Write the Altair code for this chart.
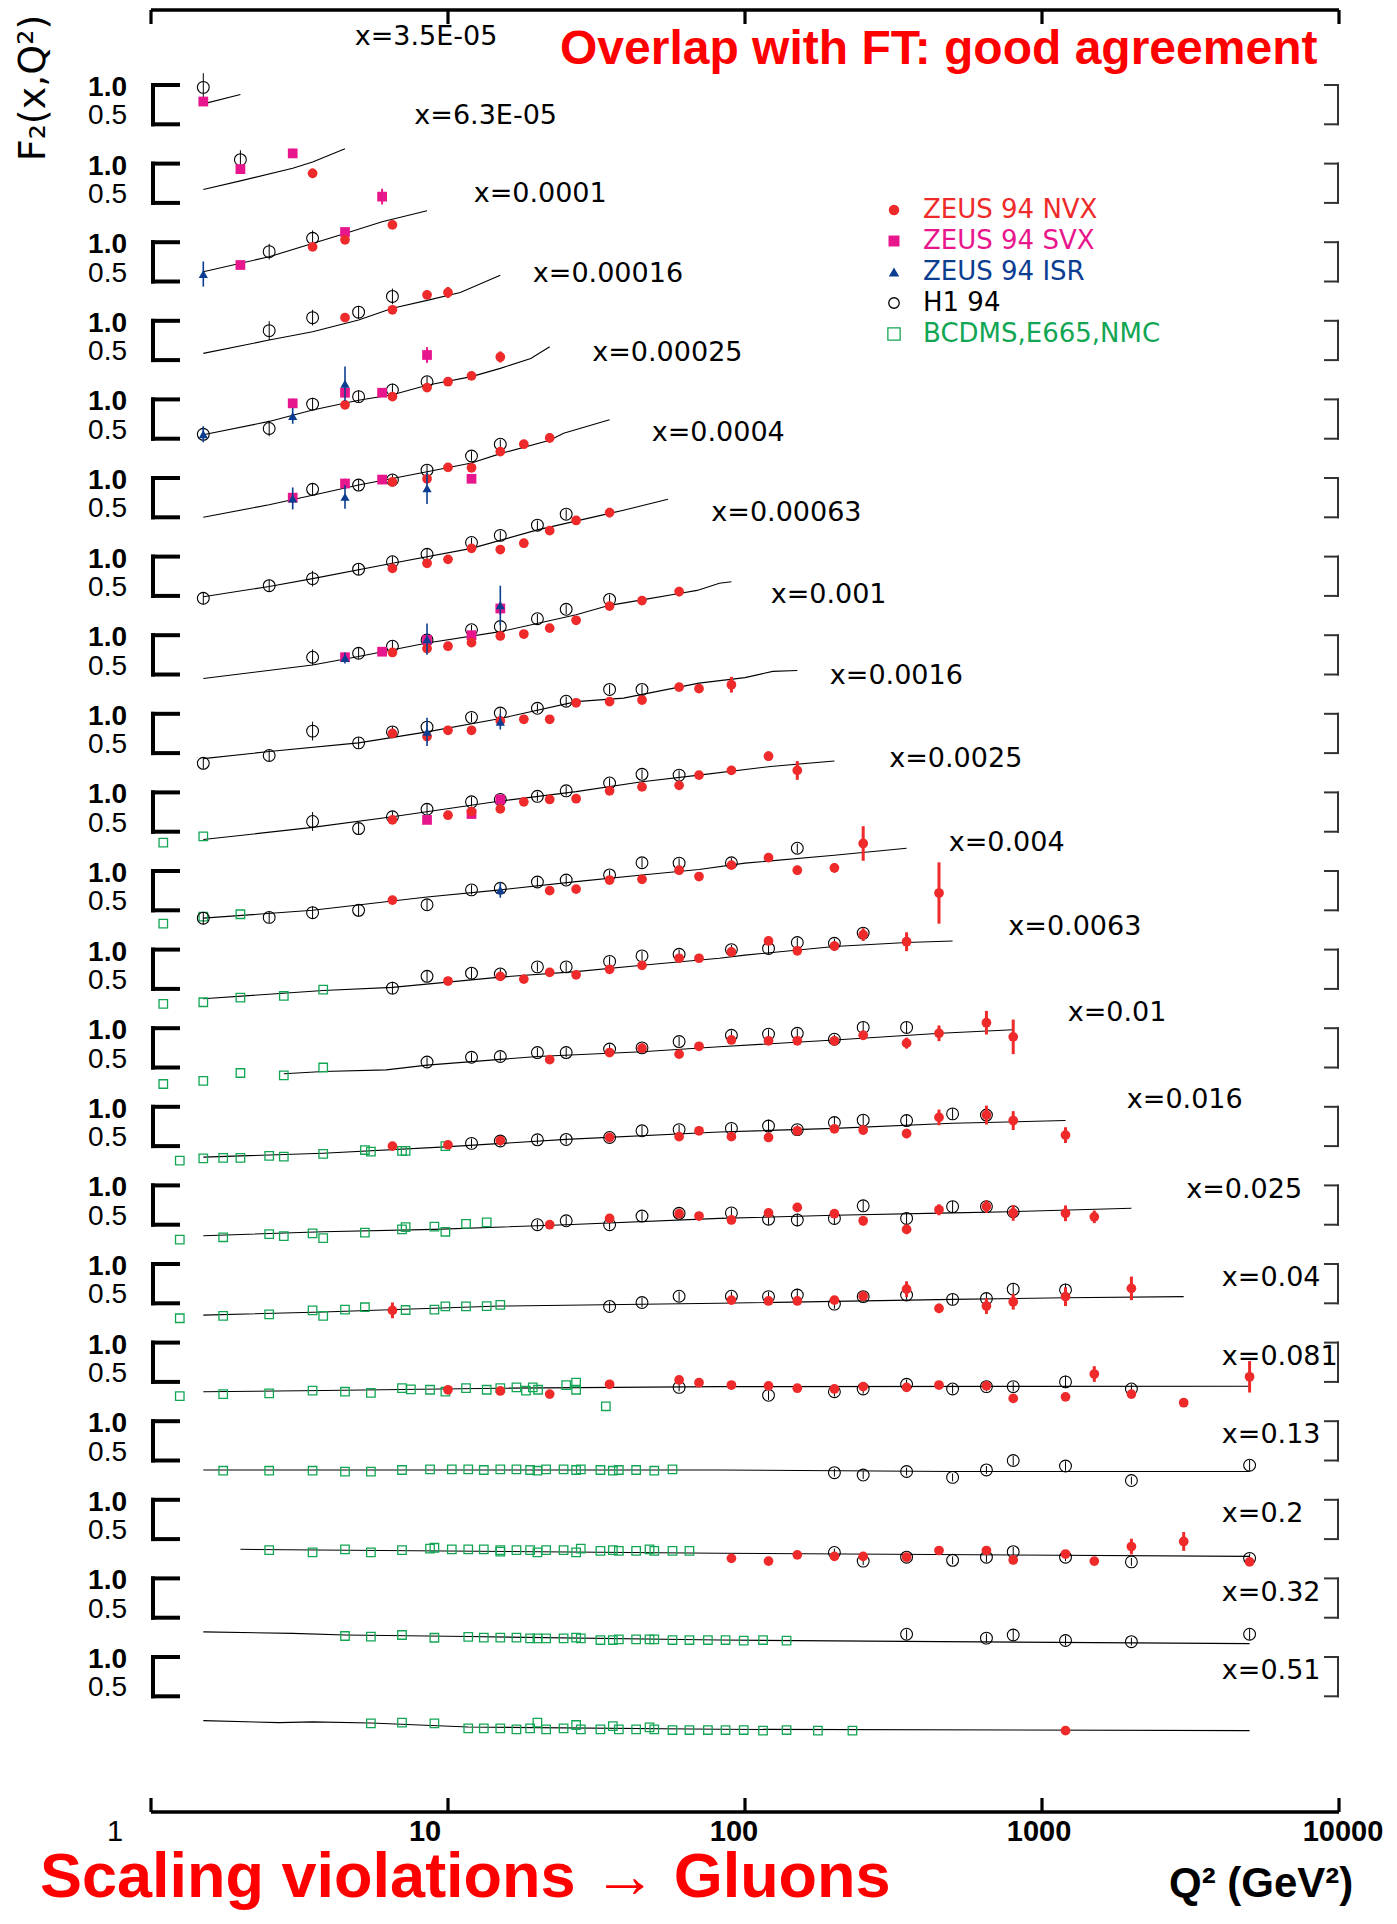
import altair as alt
import pandas as pd

# ---------------- data ----------------
BIN_LABELS = ["x=3.5E-05", "x=6.3E-05", "x=0.0001", "x=0.00016", "x=0.00025",
              "x=0.0004", "x=0.00063", "x=0.001", "x=0.0016", "x=0.0025",
              "x=0.004", "x=0.0063", "x=0.01", "x=0.016", "x=0.025",
              "x=0.04", "x=0.081", "x=0.13", "x=0.2", "x=0.32", "x=0.51"]
LABEL_Q2 = [4.85, 7.7, 12.2, 19.3, 30.6, 48.5, 77, 122, 193, 306, 485, 770,
            1220, 1930, 3060, 4030, 4030, 4030, 4030, 4030, 4030]
LABEL_F2 = [1.61, 1.60, 1.61, 1.60, 1.585, 1.57, 1.56, 1.51, 1.48, 1.42, 1.36,
            1.29, 1.19, 1.09, 0.94, 0.82, 0.82, 0.82, 0.82, 0.82, 0.82]
Q2_TICKS = [1, 10, 100, 1000, 10000]
Q2_TICK_LABELS = ["1", "10", "100", "1000", "10000"]
BRACKET_F2 = [1.0, 0.5]
BRACKET_LABELS = ["1.0", "0.5"]
LEGEND_NAMES = ["ZEUS 94 NVX", "ZEUS 94 SVX", "ZEUS 94 ISR", "H1 94", "BCDMS,E665,NMC"]

# theory curves, one list of (Q2, F2) per x bin
THEORY = [
    [(1.5, 0.76), (2.0, 0.88)],
    [(1.5, 0.67), (2.0, 0.78), (3.0, 0.94), (3.5, 1.02), (4.5, 1.19)],
    [(1.5, 0.625), (2.5, 0.815), (4.5, 1.11), (6.0, 1.26), (8.5, 1.40)],
    [(1.5, 0.586), (2.5, 0.755), (3.5, 0.86), (5.0, 1.01), (6.5, 1.16), (8.5, 1.26), (11, 1.36), (15, 1.58)],
    [(1.5, 0.55), (2.5, 0.72), (3.5, 0.865), (5.0, 0.99), (6.5, 1.06), (8.5, 1.18), (12, 1.29), (15, 1.395), (19, 1.52), (22, 1.67)],
    [(1.5, 0.50), (2.5, 0.66), (3.5, 0.78), (5.0, 0.91), (8.5, 1.08), (12, 1.19), (15, 1.31), (22, 1.48), (24.5, 1.57), (35, 1.74)],
    [(1.5, 0.49), (2.5, 0.62), (3.5, 0.72), (6.5, 0.915), (12, 1.105), (20, 1.34), (35, 1.55), (39, 1.59), (55, 1.73)],
    [(1.5, 0.45), (3.5, 0.62), (5.0, 0.73), (8.5, 0.90), (15, 1.045), (27, 1.26), (35, 1.38), (45, 1.45), (60, 1.53), (69, 1.57), (82, 1.66), (90, 1.68)],
    [(1.5, 0.43), (2.5, 0.52), (5.0, 0.63), (8.5, 0.77), (15, 0.94), (27, 1.155), (39, 1.20), (70, 1.39), (100, 1.46), (124, 1.54), (150, 1.55)],
    [(1.5, 0.40), (3.5, 0.555), (6.5, 0.69), (15, 0.89), (27, 1.01), (45, 1.135), (70, 1.22), (122, 1.33), (200, 1.40)],
    [(1.5, 0.40), (3.5, 0.50), (8.5, 0.67), (15, 0.76), (27, 0.865), (45, 0.95), (70, 1.02), (100, 1.10), (200, 1.20), (350, 1.29)],
    [(1.5, 0.375), (3.8, 0.48), (6.5, 0.52), (15, 0.65), (27, 0.72), (45, 0.80), (82, 0.89), (100, 0.93), (200, 1.04), (350, 1.09), (500, 1.11)],
    [(2.8, 0.42), (3.8, 0.45), (6.2, 0.47), (8.5, 0.53), (20, 0.64), (45, 0.70), (82, 0.765), (200, 0.85), (455, 0.935), (800, 0.98)],
    [(1.5, 0.36), (3.8, 0.41), (9.8, 0.49), (25, 0.585), (82, 0.68), (200, 0.725), (500, 0.79), (1200, 0.825)],
    [(1.5, 0.36), (3.8, 0.41), (9.0, 0.44), (25, 0.50), (82, 0.58), (200, 0.62), (500, 0.65), (780, 0.665), (2000, 0.71)],
    [(1.5, 0.35), (3.8, 0.39), (15, 0.465), (82, 0.50), (500, 0.55), (1200, 0.57), (3000, 0.585)],
    [(1.5, 0.375), (3.8, 0.39), (15, 0.42), (82, 0.44), (5000, 0.445)],
    [(1.5, 0.38), (82, 0.38), (500, 0.36), (5000, 0.36)],
    [(2.0, 0.37), (82, 0.32), (5000, 0.28)],
    [(1.5, 0.32), (3.0, 0.30), (4.5, 0.28), (11.7, 0.26), (82, 0.216), (455, 0.195), (5000, 0.17)],
    [(1.5, 0.19), (2.7, 0.165), (3.5, 0.175), (5.5, 0.16), (11.7, 0.11), (82, 0.08), (5000, 0.063)],
]

# (bin, Q2, F2, error)
H1 = [
    (0, 1.5, 0.97, 0.18),
    (1, 2.0, 1.05, 0.12),
    (2, 2.5, 0.88, 0.10), (2, 3.5, 1.05, 0.10),
    (3, 2.5, 0.875, 0.12), (3, 3.5, 1.04, 0.10), (3, 5, 1.11, 0.08), (3, 6.5, 1.31, 0.10),
    (4, 1.5, 0.556, 0.10), (4, 2.5, 0.63, 0.10), (4, 3.5, 0.94, 0.08), (4, 5, 1.035, 0.08), (4, 6.5, 1.12, 0.08), (4, 8.5, 1.225, 0.07),
    (5, 3.5, 0.856, 0.08), (5, 5, 0.91, 0.07), (5, 6.5, 0.975, 0.07), (5, 8.5, 1.10, 0.07), (5, 12, 1.28, 0.06), (5, 15, 1.43, 0.06),
    (6, 1.5, 0.47, 0.08), (6, 2.5, 0.63, 0.08), (6, 3.5, 0.72, 0.10), (6, 5, 0.84, 0.07), (6, 6.5, 0.935, 0.07), (6, 8.5, 1.03, 0.07),
    (6, 12, 1.18, 0.06), (6, 15, 1.27, 0.06), (6, 20, 1.40, 0.06), (6, 25, 1.54, 0.06),
    (7, 3.5, 0.72, 0.10), (7, 5, 0.77, 0.07), (7, 6.5, 0.86, 0.07), (7, 8.5, 0.94, 0.07), (7, 12, 1.07, 0.06), (7, 15, 1.11, 0.06),
    (7, 20, 1.21, 0.06), (7, 25, 1.33, 0.06), (7, 35, 1.455, 0.06),
    (8, 1.5, 0.37, 0.07), (8, 2.5, 0.47, 0.07), (8, 3.5, 0.78, 0.12), (8, 5, 0.63, 0.07), (8, 6.5, 0.77, 0.07), (8, 8.5, 0.83, 0.06),
    (8, 12, 0.955, 0.06), (8, 15, 1.01, 0.06), (8, 20, 1.07, 0.06), (8, 25, 1.16, 0.06), (8, 35, 1.31, 0.06), (8, 45, 1.31, 0.06),
    (9, 3.5, 0.63, 0.12), (9, 5, 0.54, 0.07), (9, 6.5, 0.69, 0.07), (9, 8.5, 0.785, 0.07), (9, 12, 0.88, 0.06), (9, 15, 0.91, 0.06),
    (9, 20, 0.95, 0.06), (9, 25, 1.02, 0.06), (9, 35, 1.12, 0.06), (9, 45, 1.23, 0.06), (9, 60, 1.22, 0.06),
    (10, 1.5, 0.40, 0.08), (10, 2.5, 0.41, 0.07), (10, 3.5, 0.47, 0.08), (10, 5, 0.50, 0.08), (10, 8.5, 0.57, 0.07), (10, 12, 0.76, 0.06),
    (10, 15, 0.78, 0.06), (10, 20, 0.86, 0.06), (10, 25, 0.885, 0.06), (10, 35, 0.95, 0.06), (10, 45, 1.105, 0.06), (10, 60, 1.10, 0.06),
    (10, 90, 1.105, 0.06), (10, 150, 1.29, 0.06),
    (11, 6.5, 0.51, 0.08), (11, 8.5, 0.66, 0.07), (11, 12, 0.70, 0.07), (11, 15, 0.69, 0.07), (11, 20, 0.78, 0.06), (11, 25, 0.78, 0.06),
    (11, 35, 0.85, 0.06), (11, 45, 0.92, 0.06), (11, 60, 0.94, 0.06), (11, 90, 1.0, 0.06), (11, 120, 1.015, 0.07), (11, 150, 1.09, 0.06),
    (11, 200, 1.08, 0.06), (11, 250, 1.21, 0.06),
    (12, 8.5, 0.57, 0.06), (12, 12, 0.63, 0.06), (12, 15, 0.64, 0.06), (12, 20, 0.69, 0.06), (12, 25, 0.69, 0.06), (12, 35, 0.735, 0.06),
    (12, 45, 0.75, 0.06), (12, 60, 0.83, 0.06), (12, 90, 0.91, 0.06), (12, 120, 0.925, 0.06), (12, 150, 0.935, 0.06), (12, 200, 0.86, 0.06),
    (12, 250, 1.01, 0.07), (12, 350, 1.01, 0.07),
    (13, 12, 0.535, 0.06), (13, 15, 0.565, 0.06), (13, 20, 0.58, 0.06), (13, 25, 0.585, 0.06), (13, 35, 0.61, 0.06), (13, 45, 0.695, 0.06),
    (13, 60, 0.71, 0.06), (13, 90, 0.725, 0.06), (13, 120, 0.755, 0.08), (13, 150, 0.71, 0.06), (13, 200, 0.80, 0.07), (13, 250, 0.83, 0.07),
    (13, 350, 0.825, 0.07), (13, 500, 0.91, 0.07), (13, 650, 0.895, 0.07),
    (14, 20, 0.50, 0.06), (14, 25, 0.55, 0.06), (14, 35, 0.50, 0.06), (14, 45, 0.61, 0.06), (14, 60, 0.645, 0.06), (14, 90, 0.65, 0.06),
    (14, 120, 0.57, 0.07), (14, 150, 0.56, 0.08), (14, 200, 0.58, 0.07), (14, 250, 0.74, 0.07), (14, 350, 0.58, 0.07), (14, 500, 0.73, 0.07),
    (14, 650, 0.73, 0.07), (14, 800, 0.665, 0.08),
    (15, 35, 0.46, 0.06), (15, 45, 0.51, 0.06), (15, 60, 0.59, 0.06), (15, 90, 0.59, 0.06), (15, 120, 0.585, 0.06), (15, 150, 0.605, 0.08),
    (15, 200, 0.49, 0.06), (15, 250, 0.585, 0.06), (15, 350, 0.605, 0.06), (15, 500, 0.55, 0.07), (15, 650, 0.56, 0.07), (15, 800, 0.68, 0.08),
    (15, 1200, 0.67, 0.08),
    (16, 60, 0.43, 0.05), (16, 120, 0.33, 0.06), (16, 200, 0.375, 0.06), (16, 250, 0.41, 0.06), (16, 350, 0.47, 0.06), (16, 500, 0.41, 0.06),
    (16, 650, 0.44, 0.06), (16, 800, 0.44, 0.06), (16, 1200, 0.50, 0.08), (16, 2000, 0.41, 0.06),
    (17, 200, 0.345, 0.05), (17, 250, 0.315, 0.05), (17, 350, 0.36, 0.05), (17, 500, 0.285, 0.05), (17, 650, 0.38, 0.05), (17, 800, 0.50, 0.06),
    (17, 1200, 0.43, 0.06), (17, 2000, 0.245, 0.05), (17, 5000, 0.44, 0.07),
    (18, 200, 0.33, 0.05), (18, 250, 0.22, 0.05), (18, 350, 0.27, 0.05), (18, 500, 0.23, 0.05), (18, 650, 0.27, 0.06), (18, 800, 0.34, 0.06),
    (18, 1200, 0.27, 0.05), (18, 2000, 0.21, 0.05), (18, 5000, 0.255, 0.06),
    (19, 350, 0.29, 0.06), (19, 650, 0.24, 0.06), (19, 800, 0.28, 0.07), (19, 1200, 0.21, 0.06), (19, 2000, 0.195, 0.05), (19, 5000, 0.29, 0.07),
]

NVX = [
    (1, 3.5, 0.876, 0.06),
    (2, 3.5, 0.94, 0.05), (2, 4.5, 1.03, 0.05), (2, 6.5, 1.22, 0.05),
    (3, 4.5, 1.04, 0.04), (3, 6.5, 1.14, 0.04), (3, 8.5, 1.33, 0.04), (3, 10, 1.36, 0.07),
    (4, 4.5, 0.93, 0.04), (4, 6.5, 1.035, 0.04), (4, 8.5, 1.15, 0.04), (4, 10, 1.225, 0.04), (4, 12, 1.30, 0.04), (4, 15, 1.54, 0.07),
    (5, 6.5, 0.95, 0.04), (5, 8.5, 0.99, 0.04), (5, 10, 1.135, 0.04), (5, 12, 1.13, 0.04), (5, 15, 1.335, 0.04), (5, 18, 1.43, 0.04), (5, 22, 1.51, 0.06),
    (6, 6.5, 0.85, 0.04), (6, 8.5, 0.915, 0.04), (6, 10, 0.965, 0.04), (6, 12, 1.105, 0.04), (6, 15, 1.09, 0.04), (6, 18, 1.17, 0.04),
    (6, 22, 1.33, 0.04), (6, 27, 1.46, 0.04), (6, 35, 1.56, 0.06),
    (7, 6.5, 0.78, 0.04), (7, 8.5, 0.83, 0.04), (7, 10, 0.86, 0.04), (7, 12, 0.905, 0.04), (7, 15, 0.99, 0.04), (7, 18, 1.015, 0.04),
    (7, 22, 1.09, 0.04), (7, 27, 1.19, 0.04), (7, 35, 1.37, 0.04), (7, 45, 1.44, 0.05), (7, 60, 1.555, 0.06),
    (8, 6.5, 0.75, 0.04), (8, 8.5, 0.71, 0.04), (8, 10, 0.79, 0.04), (8, 12, 0.79, 0.04), (8, 15, 0.91, 0.04), (8, 18, 0.93, 0.04),
    (8, 22, 0.93, 0.04), (8, 27, 1.14, 0.04), (8, 35, 1.155, 0.04), (8, 45, 1.175, 0.04), (8, 60, 1.34, 0.04), (8, 70, 1.32, 0.04), (8, 90, 1.37, 0.10),
    (9, 6.5, 0.65, 0.04), (9, 10, 0.71, 0.04), (9, 12, 0.755, 0.04), (9, 15, 0.79, 0.04), (9, 18, 0.88, 0.04), (9, 22, 0.91, 0.04),
    (9, 27, 0.92, 0.04), (9, 35, 1.02, 0.04), (9, 45, 1.07, 0.04), (9, 60, 1.09, 0.04), (9, 70, 1.22, 0.04), (9, 90, 1.28, 0.05),
    (9, 120, 1.46, 0.06), (9, 150, 1.28, 0.12),
    (10, 6.5, 0.63, 0.04), (10, 22, 0.75, 0.04), (10, 27, 0.77, 0.04), (10, 35, 0.885, 0.04), (10, 45, 0.895, 0.04), (10, 60, 1.01, 0.04),
    (10, 70, 0.93, 0.04), (10, 90, 1.075, 0.04), (10, 120, 1.17, 0.05), (10, 150, 1.01, 0.05), (10, 200, 1.04, 0.06), (10, 250, 1.35, 0.22),
    (10, 450, 0.72, 0.39),
    (11, 10, 0.60, 0.04), (11, 15, 0.66, 0.04), (11, 18, 0.625, 0.04), (11, 22, 0.71, 0.04), (11, 27, 0.68, 0.04), (11, 35, 0.75, 0.04),
    (11, 45, 0.80, 0.04), (11, 60, 0.89, 0.04), (11, 70, 0.89, 0.04), (11, 90, 0.97, 0.04), (11, 120, 1.11, 0.05), (11, 150, 0.985, 0.05),
    (11, 200, 1.045, 0.06), (11, 250, 1.19, 0.08), (11, 350, 1.10, 0.12),
    (12, 22, 0.60, 0.04), (12, 35, 0.69, 0.04), (12, 45, 0.745, 0.04), (12, 60, 0.67, 0.04), (12, 70, 0.77, 0.04), (12, 90, 0.85, 0.04),
    (12, 120, 0.84, 0.05), (12, 150, 0.84, 0.05), (12, 200, 0.84, 0.05), (12, 250, 0.91, 0.06), (12, 350, 0.81, 0.07), (12, 450, 0.935, 0.10),
    (12, 650, 1.07, 0.15), (12, 800, 0.89, 0.22),
    (13, 6.5, 0.50, 0.04), (13, 10, 0.515, 0.04), (13, 15, 0.57, 0.04), (13, 35, 0.61, 0.04), (13, 60, 0.62, 0.04), (13, 70, 0.695, 0.04),
    (13, 90, 0.62, 0.04), (13, 120, 0.61, 0.05), (13, 150, 0.695, 0.05), (13, 200, 0.72, 0.05), (13, 250, 0.705, 0.06), (13, 350, 0.66, 0.06),
    (13, 450, 0.865, 0.10), (13, 650, 0.895, 0.12), (13, 800, 0.825, 0.12), (13, 1200, 0.64, 0.10),
    (14, 22, 0.50, 0.04), (14, 35, 0.58, 0.04), (14, 60, 0.64, 0.04), (14, 70, 0.61, 0.04), (14, 90, 0.56, 0.05), (14, 120, 0.65, 0.05),
    (14, 150, 0.72, 0.05), (14, 200, 0.64, 0.05), (14, 250, 0.55, 0.06), (14, 350, 0.44, 0.06), (14, 450, 0.69, 0.07), (14, 650, 0.73, 0.08),
    (14, 800, 0.65, 0.10), (14, 1200, 0.645, 0.10), (14, 1500, 0.60, 0.08),
    (15, 6.5, 0.41, 0.10), (15, 90, 0.54, 0.05), (15, 120, 0.53, 0.05), (15, 150, 0.53, 0.05), (15, 200, 0.54, 0.05), (15, 250, 0.59, 0.06),
    (15, 350, 0.68, 0.10), (15, 450, 0.435, 0.06), (15, 650, 0.465, 0.10), (15, 800, 0.52, 0.10), (15, 1200, 0.585, 0.12), (15, 2000, 0.69, 0.15),
    (16, 10, 0.40, 0.04), (16, 15, 0.385, 0.04), (16, 22, 0.345, 0.04), (16, 35, 0.47, 0.04), (16, 60, 0.525, 0.04), (16, 70, 0.49, 0.04),
    (16, 90, 0.46, 0.04), (16, 120, 0.45, 0.04), (16, 150, 0.42, 0.04), (16, 200, 0.41, 0.04), (16, 250, 0.44, 0.04), (16, 350, 0.43, 0.05),
    (16, 450, 0.46, 0.05), (16, 650, 0.45, 0.05), (16, 800, 0.29, 0.05), (16, 1200, 0.31, 0.05), (16, 1500, 0.60, 0.10), (16, 2000, 0.345, 0.05),
    (16, 3000, 0.235, 0.05), (16, 5000, 0.565, 0.20),
    (18, 90, 0.255, 0.04), (18, 120, 0.22, 0.04), (18, 150, 0.30, 0.04), (18, 200, 0.28, 0.04), (18, 250, 0.28, 0.04), (18, 350, 0.27, 0.04),
    (18, 450, 0.355, 0.04), (18, 650, 0.355, 0.05), (18, 800, 0.235, 0.05), (18, 1200, 0.31, 0.05), (18, 1500, 0.22, 0.04), (18, 2000, 0.405, 0.10),
    (18, 3000, 0.47, 0.12), (18, 5000, 0.21, 0.05),
    (20, 1200, 0.063, 0.03),
]

SVX = [
    (0, 1.5, 0.79, 0.05),
    (1, 2.0, 0.93, 0.05), (1, 3.0, 1.13, 0.06), (1, 6.0, 0.58, 0.10),
    (2, 2.0, 0.71, 0.04), (2, 4.5, 1.13, 0.05),
    (4, 3.0, 0.95, 0.06), (4, 4.5, 1.085, 0.06), (4, 6.0, 1.085, 0.05), (4, 8.5, 1.565, 0.10),
    (5, 3.0, 0.75, 0.05), (5, 4.5, 0.93, 0.06), (5, 6.0, 0.98, 0.05), (5, 12, 0.99, 0.05),
    (7, 4.5, 0.72, 0.05), (7, 6.0, 0.79, 0.05), (7, 8.5, 0.94, 0.05), (7, 12, 1.0, 0.05), (7, 15, 1.34, 0.08),
    (9, 8.5, 0.65, 0.04), (9, 12, 0.725, 0.04), (9, 15, 0.91, 0.06),
]

ISR = [
    (2, 1.5, 0.595, 0.16),
    (4, 1.5, 0.556, 0.10), (4, 3.0, 0.79, 0.10), (4, 4.5, 1.20, 0.22),
    (5, 3.0, 0.74, 0.14), (5, 4.5, 0.76, 0.15), (5, 8.5, 0.87, 0.20),
    (7, 4.5, 0.71, 0.07), (7, 8.5, 0.95, 0.20), (7, 15, 1.38, 0.25),
    (8, 8.5, 0.77, 0.18), (8, 15, 0.90, 0.10),
    (10, 15, 0.76, 0.10),
]

# fixed-target data (bin, Q2, F2)
FT = [
    (9, 1.1, 0.36), (9, 1.5, 0.44),
    (10, 1.1, 0.33), (10, 1.5, 0.42), (10, 2.0, 0.45),
    (11, 1.1, 0.31), (11, 1.5, 0.33), (11, 2.0, 0.39), (11, 2.8, 0.41), (11, 3.8, 0.49),
    (12, 1.1, 0.29), (12, 1.5, 0.33), (12, 2.0, 0.43), (12, 2.8, 0.40), (12, 3.8, 0.50),
    (13, 1.25, 0.315), (13, 1.5, 0.345), (13, 1.75, 0.35), (13, 2.0, 0.35), (13, 2.5, 0.375), (13, 2.8, 0.365),
    (13, 3.8, 0.40), (13, 5.25, 0.45), (13, 5.5, 0.43), (13, 7.0, 0.44), (13, 7.2, 0.44), (13, 9.8, 0.50),
    (14, 1.25, 0.31), (14, 1.75, 0.34), (14, 2.5, 0.38), (14, 2.8, 0.355), (14, 3.5, 0.39), (14, 3.8, 0.33),
    (14, 5.25, 0.40), (14, 7.0, 0.44), (14, 7.2, 0.47), (14, 9.0, 0.475), (14, 9.8, 0.41), (14, 11.5, 0.51), (14, 13.5, 0.53),
    (15, 1.25, 0.31), (15, 1.75, 0.34), (15, 2.5, 0.36), (15, 3.5, 0.41), (15, 3.8, 0.34), (15, 4.5, 0.42),
    (15, 5.25, 0.45), (15, 7.2, 0.415), (15, 9.0, 0.42), (15, 9.8, 0.46), (15, 11.5, 0.46), (15, 13.5, 0.465), (15, 15, 0.48),
    (16, 1.25, 0.32), (16, 1.75, 0.345), (16, 2.5, 0.355), (16, 3.5, 0.39), (16, 4.5, 0.375), (16, 5.5, 0.36),
    (16, 7.0, 0.42), (16, 7.5, 0.405), (16, 8.7, 0.40), (16, 9.8, 0.375), (16, 11.5, 0.42), (16, 13.5, 0.40),
    (16, 15, 0.42), (16, 17, 0.43), (16, 18.3, 0.39), (16, 19.3, 0.43), (16, 20.1, 0.40), (16, 25, 0.46),
    (16, 27, 0.49), (16, 27, 0.40), (16, 34, 0.19),
    (17, 1.75, 0.37), (17, 2.5, 0.37), (17, 3.5, 0.37), (17, 4.5, 0.358), (17, 5.5, 0.358), (17, 7.0, 0.379),
    (17, 8.7, 0.388), (17, 10.3, 0.388), (17, 11.7, 0.388), (17, 13.2, 0.379), (17, 15, 0.388), (17, 17, 0.388),
    (17, 18.9, 0.379), (17, 20, 0.37), (17, 21.4, 0.388), (17, 24.5, 0.388), (17, 27, 0.379), (17, 28, 0.388),
    (17, 32.6, 0.379), (17, 35.9, 0.37), (17, 37.6, 0.379), (17, 43, 0.379), (17, 49.5, 0.37), (17, 57, 0.388),
    (18, 2.5, 0.36), (18, 3.5, 0.33), (18, 4.5, 0.37), (18, 5.5, 0.33), (18, 7.0, 0.36), (18, 8.7, 0.38),
    (18, 9.0, 0.39), (18, 10.3, 0.37), (18, 11.7, 0.37), (18, 13.2, 0.37), (18, 15, 0.36), (18, 15, 0.34),
    (18, 17, 0.36), (18, 18.9, 0.36), (18, 20, 0.33), (18, 21.4, 0.36), (18, 24.5, 0.36), (18, 27, 0.33),
    (18, 28, 0.38), (18, 32.6, 0.35), (18, 35.9, 0.36), (18, 37.6, 0.35), (18, 43, 0.35), (18, 47.7, 0.37),
    (18, 49.5, 0.35), (18, 57, 0.35), (18, 65, 0.35),
    (19, 4.5, 0.267), (19, 5.5, 0.26), (19, 7.0, 0.28), (19, 9.0, 0.245), (19, 11.7, 0.255), (19, 13.2, 0.246),
    (19, 15, 0.246), (19, 17, 0.246), (19, 18.9, 0.238), (19, 20, 0.238), (19, 21.4, 0.238), (19, 24.5, 0.238),
    (19, 27, 0.246), (19, 28, 0.238), (19, 32.6, 0.216), (19, 35.9, 0.216), (19, 37.6, 0.225), (19, 43, 0.225),
    (19, 47.7, 0.225), (19, 49.5, 0.225), (19, 57, 0.216), (19, 65, 0.216), (19, 75, 0.216), (19, 86, 0.216),
    (19, 99, 0.208), (19, 115, 0.216), (19, 138, 0.208),
    (20, 5.5, 0.156), (20, 7.0, 0.165), (20, 9.0, 0.156), (20, 11.7, 0.092), (20, 13.2, 0.092), (20, 15, 0.092),
    (20, 17, 0.08), (20, 18.9, 0.092), (20, 20, 0.165), (20, 21.4, 0.08), (20, 24.5, 0.092), (20, 27, 0.135),
    (20, 28, 0.08), (20, 32.6, 0.08), (20, 35.9, 0.12), (20, 37.6, 0.08), (20, 43, 0.08), (20, 47.7, 0.105),
    (20, 49.5, 0.08), (20, 57, 0.071), (20, 65, 0.071), (20, 75, 0.071), (20, 86, 0.071), (20, 99, 0.071),
    (20, 115, 0.063), (20, 138, 0.071), (20, 176, 0.063), (20, 230, 0.063),
]

# ---------------- layout / style ----------------
W, H = 1188, 1803
Y_TOP, Y_BOTTOM = 1.967, -20.972
RED = "#ee2a2a"
MAGENTA = "#e8168c"
BLUE = "#0b3d91"
GREEN = "#12a654"
NBINS = len(BIN_LABELS)
X_LABEL_DX = [-36, -23, -11, -3, 4]       # horizontal nudges of the Q2 tick labels
BRACKET_LABEL_DY = [3, -8]                 # vertical nudges of the 1.0 / 0.5 labels

XS = alt.Scale(type="log", domain=[1, 10000], nice=False)
YS = alt.Scale(domain=[Y_BOTTOM, Y_TOP], nice=False, zero=False)
xq = alt.X("q2:Q", scale=XS, axis=None)
yv = alt.Y("v:Q", scale=YS, axis=None)


def points_frame(rows):
    if len(rows[0]) == 3:
        rows = [(b, q, f, 0.0) for b, q, f in rows]
    df = pd.DataFrame(rows, columns=["bin", "q2", "f2", "err"])
    df["v"] = df["f2"] - df["bin"]
    df["lo"] = df["v"] - df["err"]
    df["hi"] = df["v"] + df["err"]
    return df


theory_df = pd.DataFrame(
    [(b, q, f) for b, pts in enumerate(THEORY) for q, f in pts],
    columns=["bin", "q2", "f2"])
theory_df["v"] = theory_df["f2"] - theory_df["bin"]

h1_df = points_frame(H1)
nvx_df = points_frame(NVX)
svx_df = points_frame(SVX)
isr_df = points_frame(ISR)
ft_df = points_frame(FT)

layers = []

# theory curves
layers.append(alt.Chart(theory_df).mark_line(color="black", strokeWidth=1.1).encode(
    x=xq, y=yv, detail="bin:N", order="q2:Q"))


def errbars(df, color, width):
    return alt.Chart(df).mark_rule(color=color, strokeWidth=width).encode(
        x=xq, y=alt.Y("lo:Q", scale=YS, axis=None), y2="hi:Q")


def markers(df, shape, color, size, filled, sw=1.0):
    return alt.Chart(df).mark_point(shape=shape, color=color, size=size, filled=filled,
                                    opacity=1, strokeWidth=sw).encode(x=xq, y=yv)


layers.append(markers(ft_df, "square", GREEN, 72, False, 1.3))
layers.append(errbars(h1_df, "black", 1))
layers.append(markers(h1_df, "circle", "black", 140, False, 1.1))
layers.append(errbars(svx_df, MAGENTA, 2))
layers.append(markers(svx_df, "square", MAGENTA, 95, True))
layers.append(errbars(nvx_df, RED, 3))
layers.append(markers(nvx_df, "circle", RED, 95, True))
layers.append(errbars(isr_df, BLUE, 1.6))
layers.append(markers(isr_df, "triangle-up", BLUE, 85, True))

# x-bin labels
lab_df = pd.DataFrame({"bin": range(NBINS), "q2": LABEL_Q2, "f2": LABEL_F2, "text": BIN_LABELS})
lab_df["v"] = lab_df["f2"] - lab_df["bin"]
layers.append(alt.Chart(lab_df).mark_text(align="left", baseline="middle", font="DejaVu Sans",
                                          fontSize=27, color="black").encode(x=xq, y=yv, text="text:N"))

# bracket-style y ticks on both sides
br_h = pd.DataFrame([{"bin": b, "v": lvl - b} for b in range(NBINS) for lvl in BRACKET_F2])
br_v = pd.DataFrame([{"bin": b, "lo": BRACKET_F2[1] - b, "hi": BRACKET_F2[0] - b} for b in range(NBINS)])
layers.append(alt.Chart(br_h).mark_rule(color="black", strokeWidth=4).encode(
    x=alt.value(0), x2=alt.value(29), y=yv))
layers.append(alt.Chart(br_v).mark_rule(color="black", strokeWidth=4, strokeCap="square").encode(
    x=alt.value(2), y=alt.Y("hi:Q", scale=YS, axis=None), y2="lo:Q"))
layers.append(alt.Chart(br_h).mark_rule(color="#333333", strokeWidth=2).encode(
    x=alt.value(W - 15), x2=alt.value(W), y=yv))
layers.append(alt.Chart(br_v).mark_rule(color="#333333", strokeWidth=2, strokeCap="square").encode(
    x=alt.value(W - 1), y=alt.Y("hi:Q", scale=YS, axis=None), y2="lo:Q"))

# "1.0" / "0.5" labels of each bracket
for lvl, txt, dy in zip(BRACKET_F2, BRACKET_LABELS, BRACKET_LABEL_DY):
    df = pd.DataFrame({"v": [lvl - b for b in range(NBINS)], "t": txt})
    layers.append(alt.Chart(df).mark_text(
        align="right", baseline="middle", font="Liberation Sans", fontSize=28,
        fontWeight="bold" if txt == "1.0" else "normal", color="black", dy=dy).encode(
        x=alt.value(-24), y=yv, text="t:N"))

# top and bottom frame lines with inward decade ticks
one = pd.DataFrame({"k": [0]})
layers.append(alt.Chart(one).mark_rule(color="black", strokeWidth=3.5).encode(
    x=alt.value(0), x2=alt.value(W), y=alt.value(1)))
layers.append(alt.Chart(one).mark_rule(color="black", strokeWidth=3.5).encode(
    x=alt.value(0), x2=alt.value(W), y=alt.value(H)))
tick_df = pd.DataFrame({"q2": Q2_TICKS, "t": Q2_TICK_LABELS})
layers.append(alt.Chart(tick_df).mark_rule(color="black", strokeWidth=3.2).encode(
    x=xq, y=alt.value(1), y2=alt.value(15)))
layers.append(alt.Chart(tick_df).mark_rule(color="black", strokeWidth=3.2).encode(
    x=xq, y=alt.value(H - 14), y2=alt.value(H)))

# Q2 tick labels
for i, dx in enumerate(X_LABEL_DX):
    layers.append(alt.Chart(tick_df.iloc[[i]]).mark_text(
        align="center", baseline="middle", font="Liberation Sans", fontSize=29,
        fontWeight="normal" if i == 0 else "bold", color="black", dx=dx).encode(
        x=xq, y=alt.value(H + 20), text="t:N"))


def label(text, x, y, size, color="black", weight="normal", font="Liberation Sans",
          align="left", baseline="alphabetic", angle=0):
    return alt.Chart(pd.DataFrame({"t": [text]})).mark_text(
        align=align, baseline=baseline, font=font, fontSize=size, fontWeight=weight,
        color=color, angle=angle).encode(x=alt.value(x), y=alt.value(y), text="t:N")


layers.append(label("Overlap with FT: good agreement", 409, 55, 48, "#ff0000", "bold"))
layers.append(label("Scaling violations \u2192 Gluons", -111, 1888, 63, "#ff0000", "bold"))
layers.append(label("Q\u00b2 (GeV\u00b2)", 1018, 1888, 42, "black", "bold"))
layers.append(label("F\u2082(x,Q\u00b2)", -117, 79, 38, "black", "normal", "DejaVu Sans",
                    align="center", baseline="middle", angle=270))

# legend
LEG_X, LEG_TX = 743, 772
LEG_Y = [201, 232, 263, 294, 325]
leg_style = [("circle", RED, 110, True), ("square", MAGENTA, 120, True),
             ("triangle-up", BLUE, 110, True), ("circle", "black", 110, False),
             ("square", GREEN, 150, False)]
leg_colors = [RED, MAGENTA, BLUE, "black", GREEN]
for name, (shape, col, size, filled), tcol, ly in zip(LEGEND_NAMES, leg_style, leg_colors, LEG_Y):
    layers.append(alt.Chart(pd.DataFrame({"t": [name]})).mark_point(
        shape=shape, color=col, size=size, filled=filled, opacity=1, strokeWidth=1.3).encode(
        x=alt.value(LEG_X), y=alt.value(ly)))
    layers.append(label(name, LEG_TX, ly, 26, tcol, "normal", "DejaVu Sans", baseline="middle"))

chart = alt.layer(*layers).properties(
    width=W, height=H,
    padding={"left": 143, "top": 1, "right": 48, "bottom": 98},
    autosize=alt.AutoSizeParams(type="none"),
    background="white",
).configure_view(stroke=None)

chart.save("out.html", embed_options={"renderer": "svg", "actions": False})
